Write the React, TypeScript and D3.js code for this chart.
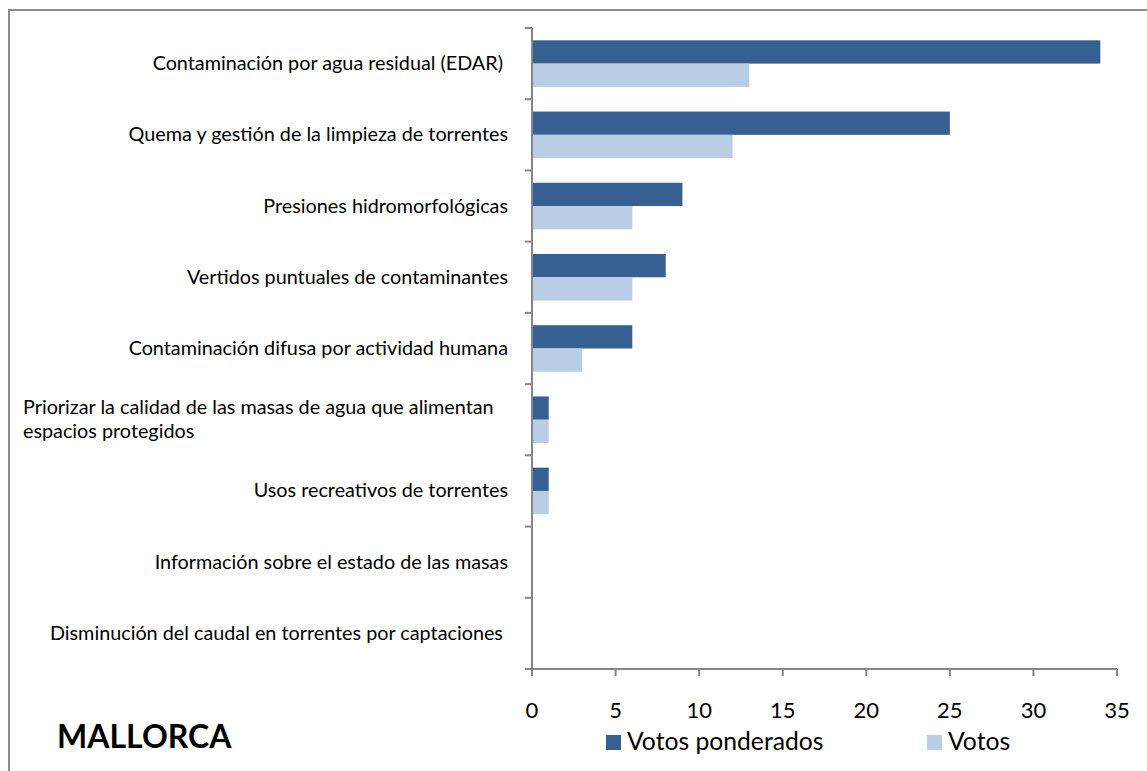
import React from "react";
import * as d3 from "d3";

const categories = [
  "Contaminación por agua residual (EDAR) ",
  "Quema y gestión de la limpieza de torrentes",
  "Presiones hidromorfológicas",
  "Vertidos puntuales de contaminantes",
  "Contaminación difusa por actividad humana",
  "Priorizar la calidad de las masas de agua que alimentan|espacios protegidos",
  "Usos recreativos de torrentes",
  "Información sobre el estado de las masas",
  "Disminución del caudal en torrentes por captaciones ",
];
const votosPonderados = [34, 25, 9, 8, 6, 1, 1, 0, 0];
const votos = [13, 12, 6, 6, 3, 1, 1, 0, 0];
const xTicks = [0, 5, 10, 15, 20, 25, 30, 35];
const seriesNames = ["Votos ponderados", "Votos"];
const colors = ["#366092", "#B9CDE5"];

const W = 1147;
const H = 771;
const FONT = "Lato, 'Open Sans', sans-serif";

export default function App() {
  const left = 532;
  const right = 1117;
  const top = 28;
  const bottom = 669;
  const x = d3.scaleLinear().domain([0, 35]).range([left, right]);
  const y = d3
    .scaleBand<number>()
    .domain(d3.range(categories.length))
    .range([top, bottom])
    .paddingInner(0)
    .paddingOuter(0);
  const band = y.bandwidth();
  const barH = band * 0.327;
  const gap = (band - 2 * barH) / 2;
  const axisColor = "#868686";

  return (
    <div style={{ position: "absolute", left: 0, top: 0 }}>
      <svg width={W} height={H} style={{ display: "block" }}>
        <rect x={0} y={0} width={W} height={H} fill="#fff" />
        {/* frame */}
        <line x1={9} y1={10} x2={9} y2={H} stroke="#8c8c8c" strokeWidth={2} />
        <line x1={8} y1={10} x2={W} y2={10} stroke="#8c8c8c" strokeWidth={2} />

        {/* bars */}
        {categories.map((c, i) => {
          const y0 = (y(i) as number) + gap;
          return (
            <g key={i}>
              <rect
                x={x(0)}
                y={y0}
                width={x(votosPonderados[i]) - x(0)}
                height={barH}
                fill={colors[0]}
              />
              <rect
                x={x(0)}
                y={y0 + barH}
                width={x(votos[i]) - x(0)}
                height={barH}
                fill={colors[1]}
              />
            </g>
          );
        })}

        {/* y axis */}
        <line x1={left} y1={top} x2={left} y2={bottom} stroke={axisColor} strokeWidth={2} />
        {d3.range(categories.length + 1).map((i) => {
          const yy = top + i * band;
          return (
            <line key={i} x1={left - 7} y1={yy} x2={left} y2={yy} stroke={axisColor} strokeWidth={2} />
          );
        })}
        {/* x axis */}
        <line x1={left - 7} y1={bottom} x2={right} y2={bottom} stroke={axisColor} strokeWidth={2} />
        {xTicks.map((t) => (
          <g key={t}>
            <line x1={x(t)} y1={bottom} x2={x(t)} y2={bottom + 7} stroke={axisColor} strokeWidth={2} />
            <text
              x={x(t)}
              y={718}
              textAnchor="middle"
              fontFamily={FONT}
              fontSize={22}
              fill="#000"
            >
              {t}
            </text>
          </g>
        ))}

        {/* category labels */}
        {categories.map((c, i) => {
          const lines = c.split("|");
          const cy = (y(i) as number) + band / 2;
          const lh = 24;
          return (
            <text
              key={i}
              fontFamily={FONT}
              fontSize={19.8}
              fill="#000"
              style={{ whiteSpace: "pre" }}
            >
              {lines.map((ln, j) => (
                <tspan
                  key={j}
                  x={lines.length > 1 ? 23 : 508}
                  textAnchor={lines.length > 1 ? "start" : "end"}
                  y={cy + (j - (lines.length - 1) / 2) * lh + 6.5}
                >
                  {ln}
                </tspan>
              ))}
            </text>
          );
        })}

        {/* title */}
        <text x={57} y={748} fontFamily={FONT} fontWeight="bold" fontSize={32} fill="#000">
          MALLORCA
        </text>

        {/* legend */}
        <rect x={606} y={735} width={15} height={15} fill={colors[0]} />
        <text x={627} y={750} fontFamily={FONT} fontSize={24.7} fill="#000">
          {seriesNames[0]}
        </text>
        <rect x={927} y={735} width={15} height={15} fill={colors[1]} />
        <text x={948} y={750} fontFamily={FONT} fontSize={24.7} fill="#000">
          {seriesNames[1]}
        </text>
      </svg>
    </div>
  );
}
